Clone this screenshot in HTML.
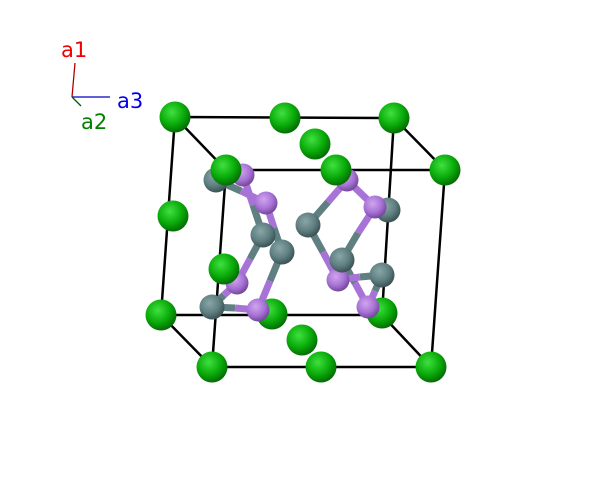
<!DOCTYPE html>
<html><head><style>body{margin:0;background:#fff}svg{display:block}</style></head><body>
<svg width="607" height="487" viewBox="0 0 607 487" xmlns="http://www.w3.org/2000/svg">
<defs>
<radialGradient id="g" cx="0.4" cy="0.35" r="0.65"><stop offset="0" stop-color="#3fe03f"/><stop offset="0.6" stop-color="#0aac0a"/><stop offset="1" stop-color="#056e05"/></radialGradient>
<radialGradient id="s" cx="0.4" cy="0.35" r="0.65"><stop offset="0" stop-color="#8aa5a7"/><stop offset="0.6" stop-color="#5f7f81"/><stop offset="1" stop-color="#3c5355"/></radialGradient>
<radialGradient id="p" cx="0.4" cy="0.35" r="0.65"><stop offset="0" stop-color="#d0a5ee"/><stop offset="0.6" stop-color="#a873d6"/><stop offset="1" stop-color="#74489c"/></radialGradient>
</defs>
<g font-family="DejaVu Sans, Liberation Sans, sans-serif" font-size="21">
<line x1="72" y1="97" x2="75" y2="63" stroke="#b00000" stroke-width="1.3"/>
<line x1="72" y1="97" x2="110" y2="97" stroke="#0000c0" stroke-width="1.3"/>
<line x1="72" y1="97" x2="81" y2="106" stroke="#006000" stroke-width="1.3"/>
<text x="61" y="57" fill="#f00000">a1</text>
<text x="117" y="108" fill="#0000f0">a3</text>
<text x="81" y="129" fill="#008000">a2</text>
</g>
<g stroke="#000" stroke-width="2.5" fill="none">
<polygon points="175,117 394,118 382,315 161,315"/>
<polygon points="226,170 445,170 431,367 212,367"/>
<line x1="175" y1="117" x2="226" y2="170"/><line x1="394" y1="118" x2="445" y2="170"/>
<line x1="382" y1="315" x2="431" y2="367"/><line x1="161" y1="315" x2="212" y2="367"/>
</g>
<g>
<circle cx="175" cy="117" r="15.5" fill="url(#g)"/><circle cx="285" cy="118" r="15.5" fill="url(#g)"/><circle cx="394" cy="118" r="15.5" fill="url(#g)"/>
<circle cx="315" cy="144" r="15.5" fill="url(#g)"/><circle cx="173" cy="216" r="15.5" fill="url(#g)"/>
<circle cx="272" cy="314" r="15.5" fill="url(#g)"/><circle cx="382" cy="313" r="15.5" fill="url(#g)"/>
<circle cx="302" cy="340" r="15.5" fill="url(#g)"/>
</g>
<g stroke-width="7" stroke-linecap="butt">
<line x1="216" y1="180" x2="241" y2="191" stroke="#5f7f81"/><line x1="241" y1="191" x2="266" y2="203" stroke="#a873d6"/>
<line x1="243" y1="175" x2="253" y2="205" stroke="#a873d6"/><line x1="253" y1="205" x2="263" y2="235" stroke="#5f7f81"/>
<line x1="266" y1="203" x2="274" y2="228" stroke="#a873d6"/><line x1="274" y1="228" x2="282" y2="252" stroke="#5f7f81"/>
<line x1="263" y1="235" x2="250" y2="259" stroke="#5f7f81"/><line x1="250" y1="259" x2="237" y2="283" stroke="#a873d6"/>
<line x1="282" y1="252" x2="270" y2="281" stroke="#5f7f81"/><line x1="270" y1="281" x2="258" y2="310" stroke="#a873d6"/>
<line x1="212" y1="307" x2="235" y2="308" stroke="#5f7f81"/><line x1="235" y1="308" x2="258" y2="310" stroke="#a873d6"/>
<line x1="212" y1="307" x2="224" y2="295" stroke="#5f7f81"/><line x1="224" y1="295" x2="237" y2="283" stroke="#a873d6"/>
<line x1="308" y1="225" x2="328" y2="202" stroke="#5f7f81"/><line x1="328" y1="202" x2="347" y2="180" stroke="#a873d6"/>
<line x1="347" y1="180" x2="375" y2="207" stroke="#a873d6"/>
<line x1="375" y1="207" x2="358" y2="233" stroke="#a873d6"/><line x1="358" y1="233" x2="342" y2="260" stroke="#5f7f81"/>
<line x1="308" y1="225" x2="323" y2="252" stroke="#5f7f81"/><line x1="323" y1="252" x2="338" y2="280" stroke="#a873d6"/>
<line x1="342" y1="260" x2="355" y2="283" stroke="#5f7f81"/><line x1="355" y1="283" x2="368" y2="307" stroke="#a873d6"/>
<line x1="338" y1="280" x2="360" y2="277" stroke="#a873d6"/><line x1="360" y1="277" x2="382" y2="275" stroke="#5f7f81"/>
<line x1="382" y1="275" x2="375" y2="291" stroke="#5f7f81"/><line x1="375" y1="291" x2="368" y2="307" stroke="#a873d6"/>
</g>
<g>
<circle cx="388" cy="210" r="12.5" fill="url(#s)"/>
<circle cx="216" cy="180" r="12.5" fill="url(#s)"/>
<circle cx="243" cy="175" r="11.5" fill="url(#p)"/>
<circle cx="266" cy="203" r="11.5" fill="url(#p)"/>
<circle cx="263" cy="235" r="12.5" fill="url(#s)"/>
<circle cx="282" cy="252" r="12.5" fill="url(#s)"/>
<circle cx="237" cy="283" r="11.5" fill="url(#p)"/>
<circle cx="212" cy="307" r="12.5" fill="url(#s)"/>
<circle cx="258" cy="310" r="11.5" fill="url(#p)"/>
<circle cx="347" cy="180" r="11.5" fill="url(#p)"/>
<circle cx="375" cy="207" r="11.5" fill="url(#p)"/>
<circle cx="308" cy="225" r="12.5" fill="url(#s)"/>
<circle cx="338" cy="280" r="11.5" fill="url(#p)"/>
<circle cx="342" cy="260" r="12.5" fill="url(#s)"/>
<circle cx="382" cy="275" r="12.5" fill="url(#s)"/>
<circle cx="368" cy="307" r="11.5" fill="url(#p)"/>
</g>
<g>
<circle cx="226" cy="170" r="15.5" fill="url(#g)"/><circle cx="336" cy="170" r="15.5" fill="url(#g)"/><circle cx="445" cy="170" r="15.5" fill="url(#g)"/>
<circle cx="224" cy="269" r="15.5" fill="url(#g)"/><circle cx="161" cy="315" r="15.5" fill="url(#g)"/>
<circle cx="212" cy="367" r="15.5" fill="url(#g)"/><circle cx="321" cy="367" r="15.5" fill="url(#g)"/><circle cx="431" cy="367" r="15.5" fill="url(#g)"/>
</g>
</svg>
</body></html>
